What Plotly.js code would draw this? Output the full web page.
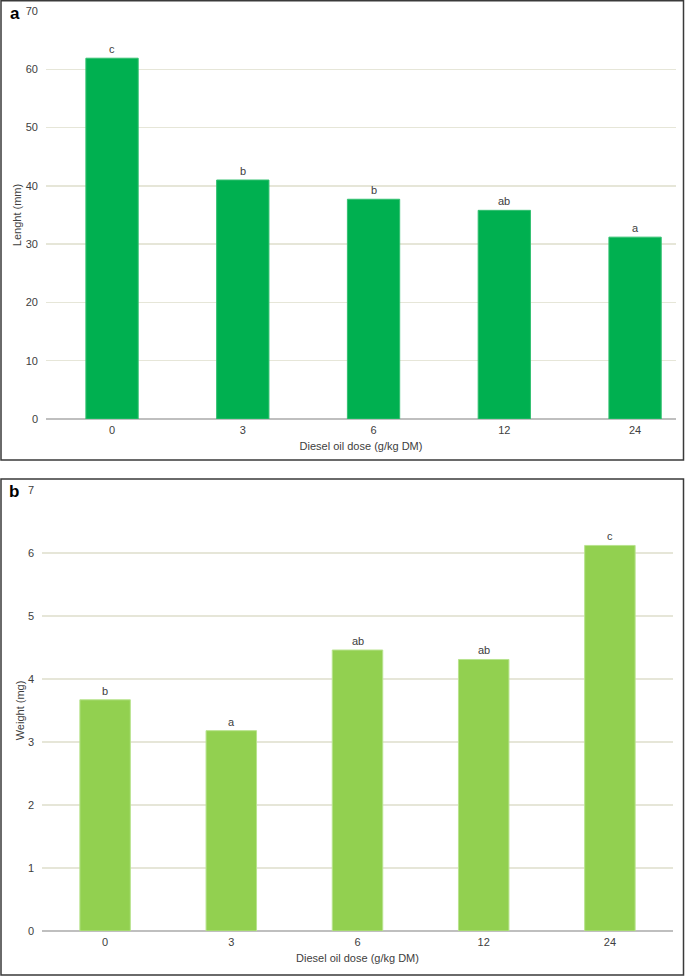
<!DOCTYPE html>
<html>
<head>
<meta charset="utf-8">
<script src="https://cdn.plot.ly/plotly-3.0.1.min.js"></script>
<style>html,body{margin:0;padding:0;background:#fff;}#chart{width:685px;height:976px;}</style>
</head>
<body>
<div id="chart"></div>
<script>
// Data
const doses = ["0", "3", "6", "12", "24"];
const lengthValues = [61.9, 41.0, 37.7, 35.8, 31.2];
const lengthLetters = ["c", "b", "b", "ab", "a"];
const weightValues = [3.67, 3.18, 4.46, 4.31, 6.12];
const weightLetters = ["b", "a", "ab", "ab", "c"];
const xTitle = "Diesel oil dose (g/kg DM)";

const idx = doses.map((d, i) => i);
const W = 685, H = 976;
const px = x => x / W;
const py = y => 1 - y / H;

const tickFont = {family: "Liberation Sans, Arial, sans-serif", size: 11, color: "#404040"};
const gridColor = "#e6e6d8";

const traces = [
  {type: "bar", x: idx, y: lengthValues, xaxis: "x", yaxis: "y", width: 0.4,
   marker: {color: "#00B050", line: {color: "#33c070", width: 1}}, hoverinfo: "skip"},
  {type: "bar", x: idx, y: weightValues, xaxis: "x2", yaxis: "y2", width: 0.4,
   marker: {color: "#92D050", line: {color: "#b8e38e", width: 1}}, hoverinfo: "skip"}
];

const annotations = [];
idx.forEach(i => {
  annotations.push({x: i, y: lengthValues[i], xref: "x", yref: "y", text: lengthLetters[i],
    showarrow: false, yanchor: "middle", yshift: 9, font: tickFont});
  annotations.push({x: i, y: weightValues[i], xref: "x2", yref: "y2", text: weightLetters[i],
    showarrow: false, yanchor: "middle", yshift: 9, font: tickFont});
});
annotations.push({x: px(14.5), y: py(13.5), xref: "paper", yref: "paper", text: "<b>a</b>",
  showarrow: false, xanchor: "center", yanchor: "middle", font: {family: "Liberation Sans, Arial, sans-serif", size: 17, color: "#000"}});
annotations.push({x: px(13.5), y: py(492), xref: "paper", yref: "paper", text: "<b>b</b>",
  showarrow: false, xanchor: "center", yanchor: "middle", font: {family: "Liberation Sans, Arial, sans-serif", size: 17, color: "#000"}});

const xCommon = {
  tickmode: "array", tickvals: idx, ticktext: doses, showgrid: false,
  zeroline: false, showline: false, ticks: "", tickfont: tickFont, fixedrange: true,
  ticklabelstandoff: 3,
  title: {text: xTitle, font: tickFont, standoff: 7}
};

const layout = {
  width: W, height: H,
  margin: {l: 0, r: 0, t: 0, b: 0},
  paper_bgcolor: "#fff", plot_bgcolor: "rgba(0,0,0,0)",
  showlegend: false,
  bargap: 0,
  xaxis: Object.assign({}, xCommon, {domain: [px(46), px(676)], range: [-0.505, 4.313], anchor: "y"}),
  yaxis: {domain: [py(419), py(11)], range: [0, 70], dtick: 10, tick0: 0,
    showgrid: true, gridcolor: gridColor, gridwidth: 1.5, zeroline: true, zerolinecolor: "#bfbfbf", zerolinewidth: 1.5,
    showline: false, ticks: "", tickfont: tickFont, anchor: "x", ticklabelstandoff: 7,
    title: {text: "Lenght (mm)", font: tickFont, standoff: 1}},
  xaxis2: Object.assign({}, xCommon, {domain: [px(42), px(673)], range: [-0.5, 4.5], anchor: "y2"}),
  yaxis2: {domain: [py(931), py(490)], range: [0, 7], dtick: 1, tick0: 0,
    showgrid: true, gridcolor: gridColor, gridwidth: 1.5, zeroline: true, zerolinecolor: "#bfbfbf", zerolinewidth: 1.5,
    showline: false, ticks: "", tickfont: tickFont, anchor: "x2", ticklabelstandoff: 7,
    title: {text: "Weight (mg)", font: tickFont, standoff: 1}},
  annotations: annotations,
  shapes: [
    {type: "rect", xref: "paper", yref: "paper", x0: px(1), x1: px(683.5), y0: py(460), y1: py(0.8),
     line: {color: "#3a3a3a", width: 1.5}},
    {type: "rect", xref: "paper", yref: "paper", x0: px(1), x1: px(683.5), y0: py(975), y1: py(479),
     line: {color: "#3a3a3a", width: 1.5}}
  ]
};

Plotly.newPlot("chart", traces, layout, {displayModeBar: false, staticPlot: true});
</script>
</body>
</html>
